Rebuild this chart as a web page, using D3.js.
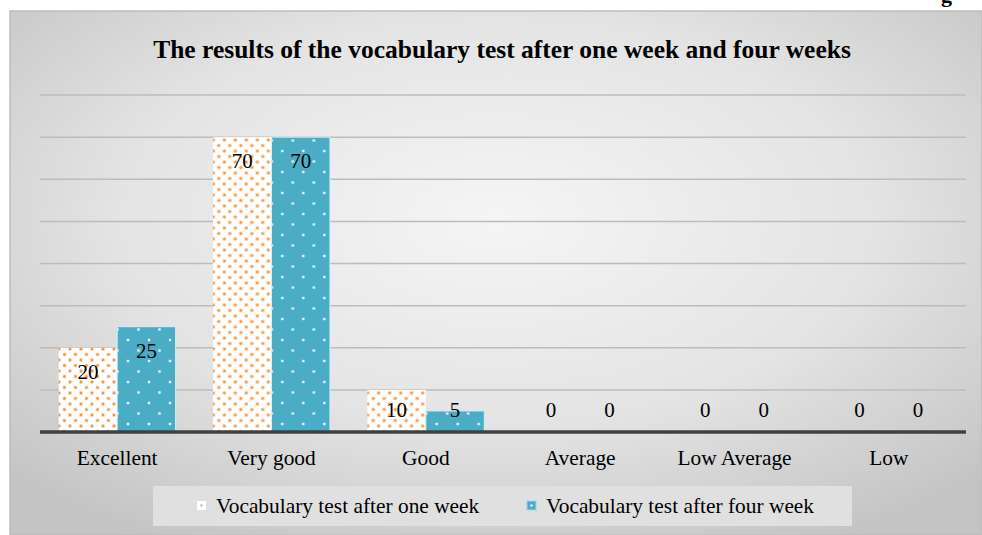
<!DOCTYPE html>
<html lang="en">
<head>
<meta charset="UTF-8">
<title>Vocabulary test results</title>
<style>
  html, body { margin: 0; padding: 0; background: #fff; }
  svg { display: block; font-family: "Liberation Serif", "Times New Roman", serif; }
</style>
</head>
<body>
<div id="chart"></div>
<script src="https://d3js.org/d3.v7.min.js"></script>
<script>
    const categories = ['Excellent', 'Very good', 'Good', 'Average', 'Low Average', 'Low'];
    const oneWeek = [20, 70, 10, 0, 0, 0];
    const fourWeeks = [25, 70, 5, 0, 0, 0];
    const seriesNames = ['Vocabulary test after one week', 'Vocabulary test after four week'];
    const gridTicks = [0, 10, 20, 30, 40, 50, 60, 70, 80];

    const w = 982, h = 535;
    const plotLeft = 40, plotRight = 966, plotTop = 95, plotBottom = 432;

    const svg = d3.select('#chart').append('svg')
        .attr('width', w)
        .attr('height', h);

    const defs = svg.append('defs');

    // background gradient
    const grad = defs.append('radialGradient')
        .attr('id', 'bg')
        .attr('cx', '50%').attr('cy', '40%').attr('r', '70%');
    grad.append('stop').attr('offset', '0%').attr('stop-color', '#f5f5f5');
    grad.append('stop').attr('offset', '55%').attr('stop-color', '#e4e4e4');
    grad.append('stop').attr('offset', '100%').attr('stop-color', '#c4c4c4');

    // orange dots on white
    const pOrange = defs.append('pattern')
        .attr('id', 'dotsOrange')
        .attr('patternUnits', 'userSpaceOnUse')
        .attr('width', 11).attr('height', 11);
    pOrange.append('rect').attr('width', 11).attr('height', 11).attr('fill', '#fff');
    [[2.5, 2.5], [8, 8]].forEach(p => {
        pOrange.append('circle').attr('cx', p[0]).attr('cy', p[1]).attr('r', 2).attr('fill', '#fbcfa6');
        pOrange.append('circle').attr('cx', p[0]).attr('cy', p[1]).attr('r', 1.2).attr('fill', '#f5994a');
    });

    // white dots on blue
    const pBlue = defs.append('pattern')
        .attr('id', 'dotsBlue')
        .attr('patternUnits', 'userSpaceOnUse')
        .attr('width', 21).attr('height', 21);
    pBlue.append('rect').attr('width', 21).attr('height', 21).attr('fill', '#4bacc6');
    [[4, 4], [14.5, 14.5]].forEach(p => {
        pBlue.append('rect').attr('x', p[0] - 1.2).attr('y', p[1] - 1.2)
            .attr('width', 2.4).attr('height', 2.4).attr('fill', '#e8f6fa');
    });

    // chart area
    svg.append('rect')
        .attr('x', 10).attr('y', 11)
        .attr('width', w - 10).attr('height', h - 11)
        .attr('fill', 'url(#bg)')
        .attr('stroke', '#bdbdbd')
        .attr('stroke-width', 1.5);

    // cut-off letter from the page above
    svg.append('text')
        .attr('x', 941).attr('y', 1.5)
        .style('font-size', '22px')
        .style('font-weight', 'bold')
        .text('g');

    svg.append('text')
        .attr('x', 502).attr('y', 58)
        .attr('text-anchor', 'middle')
        .style('font-size', '25.5px')
        .style('font-weight', 'bold')
        .text('The results of the vocabulary test after one week and four weeks');

    const x0 = d3.scaleBand().domain(categories).range([plotLeft, plotRight]);
    const x1 = d3.scaleBand().domain(seriesNames).range([0, x0.bandwidth()]).paddingOuter(0.32);
    const y = d3.scaleLinear().domain([0, 80]).range([plotBottom, plotTop]);

    // gridlines
    svg.append('g').selectAll('line')
        .data(gridTicks.slice(1))
        .enter().append('line')
        .attr('x1', plotLeft).attr('x2', plotRight)
        .attr('y1', d => y(d)).attr('y2', d => y(d))
        .attr('stroke', '#bcbcbc')
        .attr('stroke-width', 1.5);

    const rows = categories.map((c, i) => ({ cat: c, vals: [oneWeek[i], fourWeeks[i]] }));
    const fills = ['url(#dotsOrange)', 'url(#dotsBlue)'];
    const strokes = ['none', '#d8eef4'];

    const groups = svg.append('g').selectAll('g')
        .data(rows)
        .enter().append('g')
        .attr('transform', d => `translate(${x0(d.cat)},0)`);

    groups.selectAll('rect')
        .data(d => d.vals.map((v, j) => ({ v, j })))
        .enter().append('rect')
        .attr('x', d => x1(seriesNames[d.j]))
        .attr('y', d => y(d.v))
        .attr('width', x1.bandwidth())
        .attr('height', d => y(0) - y(d.v))
        .attr('fill', d => fills[d.j])
        .attr('stroke', d => d.v > 0 ? strokes[d.j] : 'none')
        .attr('stroke-width', 1);

    groups.selectAll('text')
        .data(d => d.vals.map((v, j) => ({ v, j })))
        .enter().append('text')
        .attr('x', d => x1(seriesNames[d.j]) + x1.bandwidth() / 2)
        .attr('y', d => Math.min(y(d.v) + 24, y(0) - 22) + 7)
        .attr('text-anchor', 'middle')
        .style('font-size', '21px')
        .style('fill', '#000')
        .text(d => d.v);

    // axis line
    svg.append('line')
        .attr('x1', plotLeft).attr('x2', plotRight)
        .attr('y1', y(0)).attr('y2', y(0))
        .attr('stroke', '#404040')
        .attr('stroke-width', 3.5);

    // category labels
    svg.append('g').selectAll('text')
        .data(categories)
        .enter().append('text')
        .attr('x', d => x0(d) + x0.bandwidth() / 2)
        .attr('y', 465)
        .attr('text-anchor', 'middle')
        .style('font-size', '21.4px')
        .text(d => d);

    // legend
    const legend = svg.append('g').attr('id', 'legend');
    legend.append('rect')
        .attr('x', 153).attr('y', 486)
        .attr('width', 699).attr('height', 40)
        .attr('fill', '#e0e0e0');
    const legendX = [197, 527];
    seriesNames.forEach((name, i) => {
        legend.append('rect')
            .attr('x', legendX[i]).attr('y', 501)
            .attr('width', 9).attr('height', 9)
            .attr('fill', i === 0 ? '#fff' : '#4bacc6')
            .attr('stroke', i === 0 ? 'none' : '#9fd3e1');
        legend.append('rect')
            .attr('x', legendX[i] + 3.5).attr('y', 504.5)
            .attr('width', 2).attr('height', 2)
            .attr('fill', i === 0 ? '#f59d4f' : '#fff');
        legend.append('text')
            .attr('x', legendX[i] + 19).attr('y', 513)
            .style('font-size', '21.4px')
            .text(name);
    });
</script>
</body>
</html>
